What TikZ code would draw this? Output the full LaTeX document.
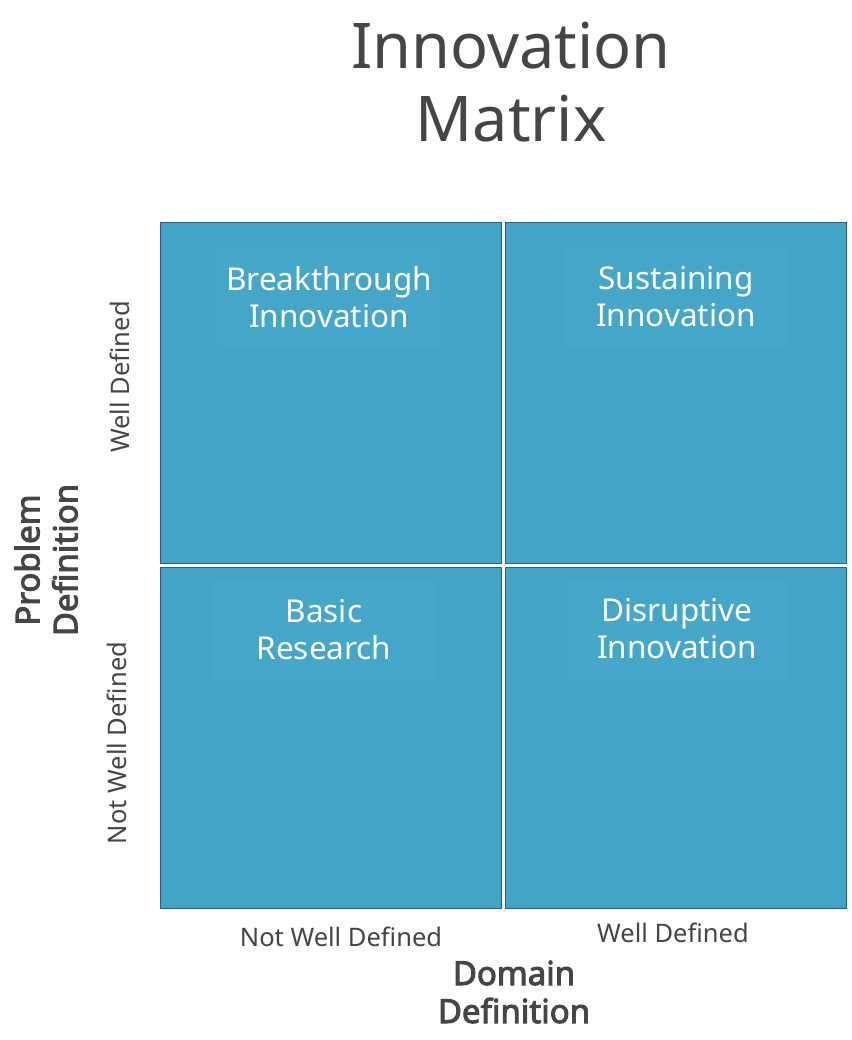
\documentclass[tikz,border=0pt]{standalone}
\usepackage{fontspec}
\setmainfont{Noto Sans}[AutoFakeBold=3]
\usetikzlibrary{positioning}
\definecolor{cellblue}{HTML}{44A4C6}
\definecolor{cellline}{HTML}{2A5B8A}
\definecolor{tagblue}{HTML}{46A6C7}
\definecolor{inkgray}{HTML}{454545}
\tikzset{
  cell/.style={draw=cellline,line width=1.6pt,fill=cellblue,
    minimum width=341pt,minimum height=341pt,inner sep=0pt},
  tag/.style={fill=tagblue,text=white,align=center,inner sep=0pt,
    minimum width=222pt,minimum height=100pt,font=\fontsize{31.5}{37}\selectfont},
  axisval/.style={text=inkgray,font=\fontsize{25.5}{30}\selectfont,inner sep=0pt},
  axisname/.style={text=inkgray,align=center,inner sep=0pt,
    font=\bfseries\fontsize{33}{38}\selectfont}
}
\begin{document}
\begin{tikzpicture}[x=1pt,y=-1pt]
  \useasboundingbox (0,0) rectangle (851,1040);

  \node[text=inkgray,align=center,font=\fontsize{63}{73}\selectfont] (title) at (511,82) {Innovation\\Matrix};

  \node[cell] (tl) at (331,393) {};
  \node[cell] (tr) at (676,393) {};
  \node[cell] (bl) at (331,738) {};
  \node[cell] (br) at (676,738) {};

  \node[tag] (breakthrough) at (329,297) {Breakthrough\\Innovation};
  \node[tag] (sustaining) at (676,297) {Sustaining\\Innovation};
  \node[tag] (basic) at (324,630) {Basic\\Research};
  \node[tag] (disruptive) at (677,629) {Disruptive\\Innovation};

  \node[axisval,rotate=90] (pwell) at (120,377) {Well Defined};
  \node[axisval,rotate=90] (pnot) at (117,743) {Not Well Defined};
  \node[axisval] (dnot) at (341,937) {Not Well Defined};
  \node[axisval] (dwell) at (673,933) {Well Defined};

  \node[axisname] (domain) at (514,992) {Domain\\Definition};
  \node[axisname,rotate=90] (problem) at (46,560) {Problem\\Definition};
\end{tikzpicture}
\end{document}
